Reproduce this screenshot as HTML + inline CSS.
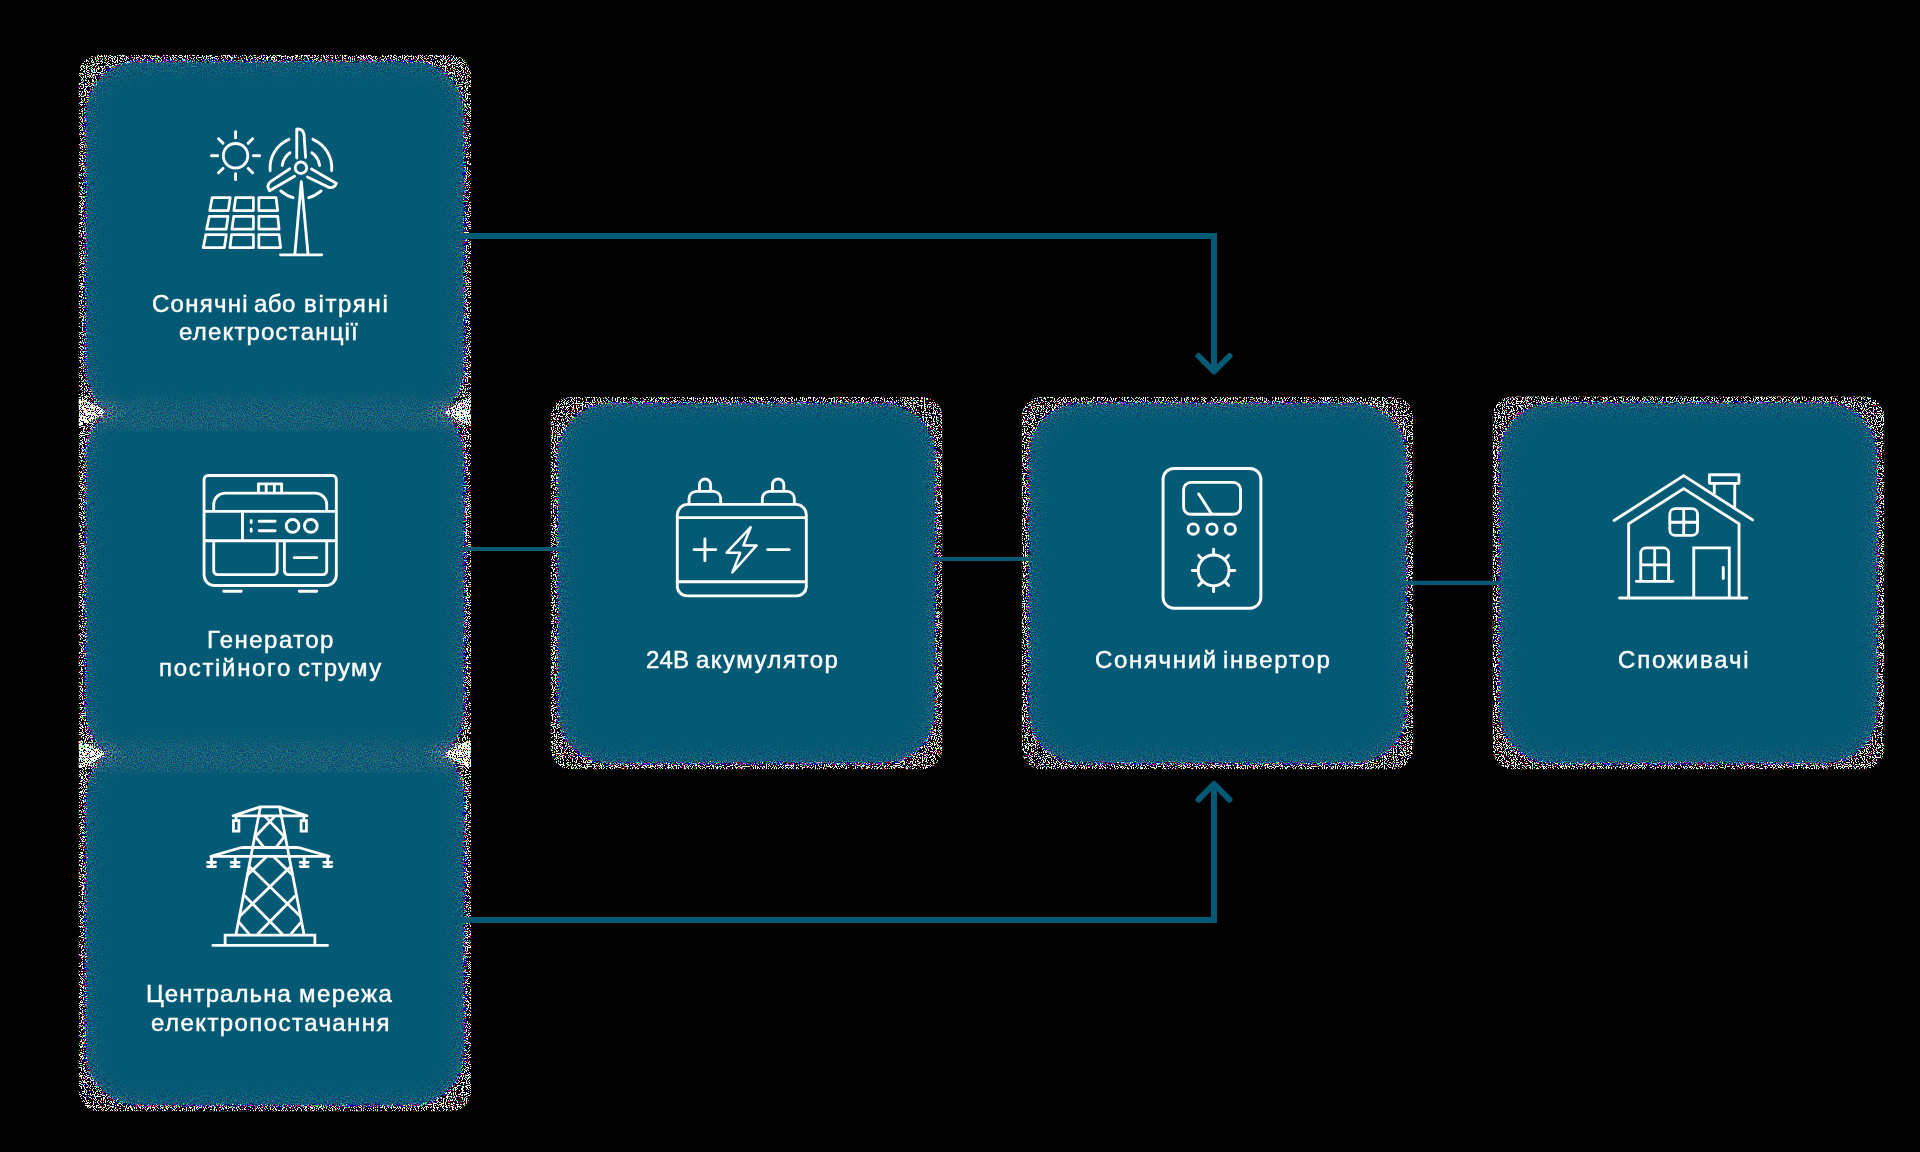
<!DOCTYPE html>
<html lang="uk">
<head>
<meta charset="utf-8">
<title>Схема</title>
<style>
html,body{margin:0;padding:0;background:#000;}
body{width:1920px;height:1152px;overflow:hidden;position:relative;font-family:"Liberation Sans",sans-serif;}
svg#stage{position:absolute;left:0;top:0;display:block;}
.lbl{position:absolute;color:#fff;text-align:left;font-family:"Liberation Sans",sans-serif;font-size:24px;line-height:28px;white-space:nowrap;-webkit-text-stroke:0.45px #fff;will-change:transform;}
</style>
</head>
<body>
<svg id="stage" width="1920" height="1152" viewBox="0 0 1920 1152">
<defs>
  <!-- noisy shadow-edge filter (emulates dithered alpha fringe) -->
  <filter id="nz" filterUnits="userSpaceOnUse" x="60" y="40" width="1840" height="1090" color-interpolation-filters="sRGB">
    <feGaussianBlur in="SourceAlpha" stdDeviation="3" result="blurA"/>
    <feGaussianBlur in="SourceAlpha" stdDeviation="13" result="blurB"/>
    <feColorMatrix in="blurA" type="matrix" values="0 0 0 -1 1  0 0 0 -1 1  0 0 0 -1 1  0 0 0 0 1" result="invA"/>
    <feTurbulence type="fractalNoise" baseFrequency="0.85" numOctaves="1" seed="7" result="turb"/>
    <feTurbulence type="fractalNoise" baseFrequency="0.9" numOctaves="1" seed="23" result="turb2"/>
    <feTurbulence type="fractalNoise" baseFrequency="0.8" numOctaves="2" seed="91" result="turb3"/>
    <feColorMatrix in="turb" type="matrix" values="0 0 0 1 0  0 0 0 1 0  0 0 0 1 0  0 0 0 0 1" result="ngA"/>
    <feColorMatrix in="turb" type="matrix" values="1 0 0 0 0  1 0 0 0 0  1 0 0 0 0  0 0 0 0 1" result="ngR"/>
    <!-- layer 1 : outer black/white band -->
    <feComposite in="ngA" in2="invA" operator="arithmetic" k1="0" k2="0.3" k3="0.9" k4="0" result="v1"/>
    <feComponentTransfer in="v1" result="v1t">
      <feFuncR type="discrete" tableValues="0 0 0 0 0 0 0 0 1 1"/>
    </feComponentTransfer>
    <feColorMatrix in="v1t" type="matrix" values="0 0 0 0 1  0 0 0 0 1  0 0 0 0 1  1 0 0 0 0" result="m1"/>
    <feColorMatrix in="turb2" type="matrix" values="0.12 0 0 0.88 0  0 0.12 0 0.88 0  0 0 0.12 0.88 0  0 0 0 0 1" result="nbw"/>
    <feComponentTransfer in="nbw" result="bw">
      <feFuncR type="discrete" tableValues="0 0 0 0 0 0 0 0 0 0 0 0 0 0 0 0 0 0 0 0 0 0 0 0 0 0 0 1 1 1 1 1 1 1 1 1 1 1 1 1 1 1 1 1 1 1 1 1 1 1"/>
      <feFuncG type="discrete" tableValues="0 0 0 0 0 0 0 0 0 0 0 0 0 0 0 0 0 0 0 0 0 0 0 0 0 0 0 1 1 1 1 1 1 1 1 1 1 1 1 1 1 1 1 1 1 1 1 1 1 1"/>
      <feFuncB type="discrete" tableValues="0 0 0 0 0 0 0 0 0 0 0 0 0 0 0 0 0 0 0 0 0 0 0 0 0 0 0 1 1 1 1 1 1 1 1 1 1 1 1 1 1 1 1 1 1 1 1 1 1 1"/>
    </feComponentTransfer>
    <feComposite in="bw" in2="m1" operator="in" result="L1"/>
    <!-- layer 2 : coloured speckle band -->
    <feComposite in="ngR" in2="invA" operator="arithmetic" k1="0" k2="0.5" k3="0.75" k4="0" result="v2"/>
    <feComponentTransfer in="v2" result="v2t">
      <feFuncR type="discrete" tableValues="0 0 0 0 0 0 1 1 1 1"/>
    </feComponentTransfer>
    <feColorMatrix in="v2t" type="matrix" values="0 0 0 0 1  0 0 0 0 1  0 0 0 0 1  1 0 0 0 0" result="m2"/>
    <feColorMatrix in="turb3" type="matrix" values="0.75 0 0 0.25 0  0 0.75 0 0.25 0  0 0 0.75 0.25 0  0 0 0 0 1" result="ncol"/>
    <feComponentTransfer in="ncol" result="sat">
      <feFuncR type="discrete" tableValues="0 0 0 0 0 0 0 0 0 0 0 1 1 1 1 1 1 1 1 1"/>
      <feFuncG type="discrete" tableValues="0 0 0 0 0 0 0 0 0 0 0 1 1 1 1 1 1 1 1 1"/>
      <feFuncB type="discrete" tableValues="0 0 0 0 0 0 0 0 0 0 1 1 1 1 1 1 1 1 1 1"/>
    </feComponentTransfer>
    <feComposite in="sat" in2="m2" operator="in" result="L2"/>
    <!-- soft layer : low amplitude colour noise fading inward -->
    <feColorMatrix in="turb3" type="matrix" values="3 0 0 0 -1.46  0 3 0 0 -1.17  0 0 3 0 -1.02  0 0 0 0 1" result="softc"/>
    <feColorMatrix in="blurB" type="matrix" values="0 0 0 0 0  0 0 0 0 0  0 0 0 0 0  0 0 0 -0.9 0.9" result="softa"/>
    <feComposite in="softc" in2="softa" operator="in" result="L0"/>
    <feFlood flood-color="#045a74" result="teal"/>
    <feMerge>
      <feMergeNode in="teal"/>
      <feMergeNode in="L0"/>
      <feMergeNode in="L2"/>
      <feMergeNode in="L1"/>
    </feMerge>
  </filter>
  <filter id="nzw" filterUnits="userSpaceOnUse" x="60" y="380" width="440" height="410" color-interpolation-filters="sRGB">
    <feGaussianBlur in="SourceAlpha" stdDeviation="2.2" result="wb"/>
    <feColorMatrix in="wb" type="matrix" values="0 0 0 1 0  0 0 0 1 0  0 0 0 1 0  0 0 0 0 1" result="wbc"/>
    <feTurbulence type="fractalNoise" baseFrequency="0.85" numOctaves="1" seed="41" result="wt"/>
    <feColorMatrix in="wt" type="matrix" values="0 0 0 1 0  0 0 0 1 0  0 0 0 1 0  0 0 0 0 1" result="wn"/>
    <feComposite in="wn" in2="wbc" operator="arithmetic" k1="0" k2="0.5" k3="0.8" k4="0" result="wv"/>
    <feComponentTransfer in="wv" result="wvt">
      <feFuncR type="discrete" tableValues="0 0 0 0 0 0 1 1 1 1"/>
    </feComponentTransfer>
    <feColorMatrix in="wvt" type="matrix" values="0 0 0 0 1  0 0 0 0 1  0 0 0 0 1  1 0 0 0 0" result="wm"/>
    <feColorMatrix in="wt" type="matrix" values="0.2 0 0 0.8 0  0 0.2 0 0.8 0  0 0 0.2 0.8 0  0 0 0 0 1" result="wc"/>
    <feComponentTransfer in="wc" result="wsat">
      <feFuncR type="discrete" tableValues="0 0 0 0 0 0 0 0 0 1 1 1 1 1 1 1 1 1 1 1"/>
      <feFuncG type="discrete" tableValues="0 0 0 0 0 0 0 0 0 1 1 1 1 1 1 1 1 1 1 1"/>
      <feFuncB type="discrete" tableValues="0 0 0 0 0 0 0 0 0 1 1 1 1 1 1 1 1 1 1 1"/>
    </feComponentTransfer>
    <feComposite in="wsat" in2="wm" operator="in"/>
  </filter>
  <linearGradient id="seamG" x1="0" y1="0" x2="0" y2="1">
    <stop offset="0" stop-color="#fff" stop-opacity="0"/>
    <stop offset="0.35" stop-color="#fff" stop-opacity="0.2"/>
    <stop offset="0.6" stop-color="#fff" stop-opacity="0.26"/>
    <stop offset="0.94" stop-color="#fff" stop-opacity="0.2"/>
    <stop offset="1" stop-color="#fff" stop-opacity="0"/>
  </linearGradient>
  <radialGradient id="tipG">
    <stop offset="0" stop-color="#fff" stop-opacity="0.75"/>
    <stop offset="0.45" stop-color="#fff" stop-opacity="0.4"/>
    <stop offset="1" stop-color="#fff" stop-opacity="0"/>
  </radialGradient>
  <filter id="nzs" filterUnits="userSpaceOnUse" x="60" y="370" width="440" height="420" color-interpolation-filters="sRGB">
    <feTurbulence type="fractalNoise" baseFrequency="0.8" numOctaves="2" seed="55" result="st"/>
    <feColorMatrix in="st" type="matrix" values="3.4 0 0 0 -1.5  0 3.2 0 0 -1.2  0 0 3.2 0 -1.08  0 0 0 0 1" result="sc"/>
    <feComposite in="sc" in2="SourceGraphic" operator="in"/>
  </filter>
  <clipPath id="outer">
    <rect x="78.75" y="55" width="392.25" height="372" rx="20"/>
    <rect x="78.75" y="397" width="392.25" height="372" rx="20"/>
    <rect x="78.75" y="739" width="392.25" height="372.3" rx="20"/>
    <rect x="550.75" y="397" width="391.5" height="372.2" rx="20"/>
    <rect x="1021.8" y="397" width="391.4" height="372.2" rx="20"/>
    <rect x="1492.7" y="396.5" width="391.5" height="372.7" rx="20"/>
  </clipPath>
</defs>
<rect width="1920" height="1152" fill="#000"/>
<g clip-path="url(#outer)">
  <g filter="url(#nz)" fill="#fff">
    <!-- left column : three stacked cards; seams get slightly lower coverage -->
    <g>
      <rect x="86" y="61.5" width="378" height="359" rx="52"/>
      <rect x="86" y="403.5" width="378" height="359" rx="52"/>
      <rect x="86" y="745.5" width="378" height="359.5" rx="52"/>
    </g>
    <rect x="558" y="403.5" width="377" height="359.5" rx="52"/>
    <rect x="1029" y="403.5" width="377" height="359.5" rx="52"/>
    <rect x="1500" y="403" width="377" height="360" rx="52"/>
  </g>
  <!-- faint dither band along the seams + glow at wedge tips -->
  <g filter="url(#nzs)">
    <rect x="86" y="390" width="378" height="42" fill="url(#seamG)"/>
    <rect x="86" y="732" width="378" height="42" fill="url(#seamG)"/>
    <ellipse cx="104" cy="412" rx="24" ry="15" fill="url(#tipG)"/>
    <ellipse cx="446" cy="412" rx="24" ry="15" fill="url(#tipG)"/>
    <ellipse cx="104" cy="754" rx="24" ry="15" fill="url(#tipG)"/>
    <ellipse cx="446" cy="754" rx="24" ry="15" fill="url(#tipG)"/>
  </g>
  <!-- bright speckle wedges where stacked cards meet -->
  <g filter="url(#nzw)" fill="#fff">
    <path d="M78 397L107 412L78 427Z"/>
    <path d="M472 397L443 412L472 427Z"/>
    <path d="M78 739L107 754L78 769Z"/>
    <path d="M472 739L443 754L472 769Z"/>
  </g>
</g>
<!-- connectors -->
<g fill="none" stroke="#045a74" stroke-width="6">
  <path d="M440 236H1214V371"/>
  <path d="M440 920H1214V785"/>
  <path d="M1198.5 356L1214 371.5L1229.5 356" stroke-linecap="round" stroke-linejoin="round"/>
  <path d="M1198.5 799.7L1214 784L1229.5 799.7" stroke-linecap="round" stroke-linejoin="round"/>
</g>
<g fill="none" stroke="#045a74" stroke-width="4.2">
  <path d="M440 549H585"/>
  <path d="M905 559H1056"/>
  <path d="M1380 582.9H1527"/>
</g>

<!-- ICON: sun + solar panel + wind turbine  (zoom coords 7.68x, origin 190,115) -->
<svg x="190" y="115" width="160" height="150" viewBox="0 0 1229 1152" fill="none" stroke="#fff" stroke-width="22" stroke-linecap="round" stroke-linejoin="round">
  <circle cx="350" cy="313" r="94"/>
  <path d="M350 128V176M350 450V498M165 313H213M487 313H535M219 182L253 216M447 410L481 444M481 182L447 216M253 410L219 444"/>
  <g id="blade">
    <path d="M820 330V108Q868 104 876 150L888 326"/>
  </g>
  <use href="#blade" transform="rotate(120 852 405)"/>
  <use href="#blade" transform="rotate(240 852 405)"/>
  <circle cx="852" cy="405" r="44"/>
  <path d="M760 187A238 238 0 0 0 616 428M944 187A238 238 0 0 1 1088 428M697 583A238 238 0 0 0 792 635M1007 583A238 238 0 0 1 912 635"/>
  <path d="M768 290A146 146 0 0 0 708 388M936 290A146 146 0 0 1 996 388"/>
  <path d="M806 1062L855 512L906 1062M695 1074H1012"/>
  <g stroke-width="21">
    <path d="M171 634H309L294 734H152Z M351 634H487V734H337Z M529 634H661L673 734H529Z"/>
    <path d="M148 779H292L278 877H127Z M336 779H487V877H322Z M529 779H674L684 877H529Z"/>
    <path d="M121 919H279L264 1019H102Z M319 919H487V1019H307Z M529 919H684L696 1019H529Z"/>
  </g>
</svg>

<!-- ICON: generator (origin 190,460) -->
<svg x="190" y="460" width="160" height="150" viewBox="0 0 1229 1152" fill="none" stroke="#fff" stroke-width="22" stroke-linecap="round" stroke-linejoin="round">
  <path d="M138 119H1094A30 30 0 0 1 1124 149V884A80 80 0 0 1 1044 964H188A80 80 0 0 1 108 884V149A30 30 0 0 1 138 119Z"/>
  <path d="M108 395H1124M108 620H1124M403 395V620" stroke-linecap="butt"/>
  <path d="M182 395V342A88 88 0 0 1 270 254H962A88 88 0 0 1 1050 342V395" stroke-linecap="butt"/>
  <path d="M526 254V183H704V254M585 183V254M648 183V254" stroke-linecap="butt"/>
  <path d="M470 466V480M470 531V547M531 470H654M531 543H654"/>
  <circle cx="788" cy="506" r="49"/><circle cx="928" cy="506" r="49"/>
  <path d="M182 620V850A30 30 0 0 0 212 880H640A30 30 0 0 0 670 850V620M725 620V850A30 30 0 0 0 755 880H1020A30 30 0 0 0 1050 850V620" stroke-linecap="butt"/>
  <path d="M801 750H974M259 1008H394M839 1008H974"/>
</svg>

<!-- ICON: power pylon (7.2x, origin 190,795) -->
<svg x="190" y="795" width="160" height="160" viewBox="0 0 1152 1152" fill="none" stroke="#fff" stroke-width="20" stroke-linecap="butt" stroke-linejoin="miter">
  <path d="M165 1083H990" stroke-linecap="round"/>
  <path d="M253 1083V1009H899V1083"/>
  <path d="M507 85L330 1009M645 85L822 1009M500 85H652"/>
  <path d="M507 85L310 150H843L645 85" stroke-linejoin="round"/>
  <path d="M332 150V185M820 150V185M313 185H352V260H313ZM800 185H838V260H800Z"/>
  <path d="M370 378H782M370 378L150 442H1002L782 378" stroke-linejoin="round"/>
  <path d="M155 442V515M325 442V515M822 442V515M992 442V515"/>
  <path d="M126 485H184M126 515H184M296 485H354M296 515H354M793 485H851M793 515H851M963 485H1021M963 515H1021" stroke-linecap="round"/>
  <path d="M612 152L470 300L530 374M538 152L680 300L622 374"/>
  <path d="M548 446L412 578M604 446L740 578"/>
  <path d="M727 513L356 874M425 513L796 874M349 912L428 1003M803 912L724 1003"/>
  <path d="M394 726L666 1003M758 726L486 1003"/>
</svg>

<!-- ICON: battery (origin 660,460) -->
<svg x="660" y="460" width="160" height="150" viewBox="0 0 1229 1152" fill="none" stroke="#fff" stroke-width="22" stroke-linecap="round" stroke-linejoin="round">
  <path d="M213 341H1044A80 80 0 0 1 1124 421V969A75 75 0 0 1 1049 1044H208A75 75 0 0 1 133 969V421A80 80 0 0 1 213 341Z"/>
  <path d="M133 443H1124M133 935H1124" stroke-linecap="butt"/>
  <path d="M223 341V296A55 55 0 0 1 278 241H411A55 55 0 0 1 466 296V341M786 341V296A55 55 0 0 1 841 241H977A55 55 0 0 1 1032 296V341" stroke-linecap="butt"/>
  <path d="M303 241V189A43 43 0 0 1 389 189V241M864 241V189A43 43 0 0 1 951 189V241" stroke-linecap="butt"/>
  <path d="M261 688H429M345 606V774M826 688H992"/>
  <path d="M697 516L512 712H616L556 864L742 656H640Z" stroke-width="19"/>
</svg>

<!-- ICON: inverter (7.2x, origin 1130,460) -->
<svg x="1130" y="460" width="160" height="160" viewBox="0 0 1152 1152" fill="none" stroke="#fff" stroke-width="21" stroke-linecap="round" stroke-linejoin="round">
  <rect x="238" y="61" width="704" height="1006" rx="78"/>
  <rect x="386" y="161" width="410" height="230" rx="52"/>
  <path d="M495 245L586 386"/>
  <circle cx="455" cy="497" r="37"/><circle cx="590" cy="497" r="37"/><circle cx="722" cy="497" r="37"/>
  <circle cx="602" cy="795" r="111"/>
  <path d="M602 642V684M602 906V948M449 795H491M713 795H755M494 687L523 716M681 874L710 903M710 687L681 716M523 874L494 903"/>
</svg>

<!-- ICON: house (origin 1600,460) -->
<svg x="1600" y="460" width="160" height="150" viewBox="0 0 1229 1152" fill="none" stroke="#fff" stroke-width="22" stroke-linecap="round" stroke-linejoin="miter">
  <path d="M108 465L643 120L1172 460"/>
  <path d="M220 1060V490L643 220L1068 490V1060" stroke-linecap="butt"/>
  <path d="M150 1060H1128"/>
  <path d="M841 113H1067V179H841ZM878 179V262M1035 179V362" stroke-linecap="butt" stroke-linejoin="round"/>
  <rect x="536" y="373" width="213" height="206" rx="42"/>
  <path d="M643 373V579M536 478H749" stroke-linecap="butt"/>
  <path d="M313 932V715A40 40 0 0 1 353 675H487A40 40 0 0 1 527 715V932M420 675V932M313 805H527" stroke-linecap="butt"/>
  <path d="M280 932H560"/>
  <path d="M720 1060V675H993V1060" stroke-linecap="butt"/>
  <path d="M947 826V911"/>
</svg>
</svg>

<div class="lbl" style="left:151.7px;top:290px;letter-spacing:1.25px">Сонячні</div>
<div class="lbl" style="left:254.4px;top:290px;letter-spacing:0.45px">або</div>
<div class="lbl" style="left:303.5px;top:290px;letter-spacing:1.67px">вітряні</div>
<div class="lbl" style="left:179.3px;top:318px;letter-spacing:1.18px">електростанції</div>
<div class="lbl" style="left:207.2px;top:626px;letter-spacing:1.44px">Генератор</div>
<div class="lbl" style="left:159.2px;top:654px;letter-spacing:1.68px">постійного</div>
<div class="lbl" style="left:298.4px;top:654px;letter-spacing:1.32px">струму</div>
<div class="lbl" style="left:145.8px;top:980px;letter-spacing:1.08px">Центральна</div>
<div class="lbl" style="left:299.1px;top:980px;letter-spacing:1.45px">мережа</div>
<div class="lbl" style="left:150.8px;top:1009px;letter-spacing:1.43px">електропостачання</div>
<div class="lbl" style="left:646.3px;top:646px;letter-spacing:0.17px">24В</div>
<div class="lbl" style="left:696.2px;top:646px;letter-spacing:1.48px">акумулятор</div>
<div class="lbl" style="left:1094.8px;top:646px;letter-spacing:1.67px">Сонячний</div>
<div class="lbl" style="left:1223.3px;top:646px;letter-spacing:1.74px">інвертор</div>
<div class="lbl" style="left:1618.0px;top:646px;letter-spacing:1.83px">Споживачі</div>
</body>
</html>
